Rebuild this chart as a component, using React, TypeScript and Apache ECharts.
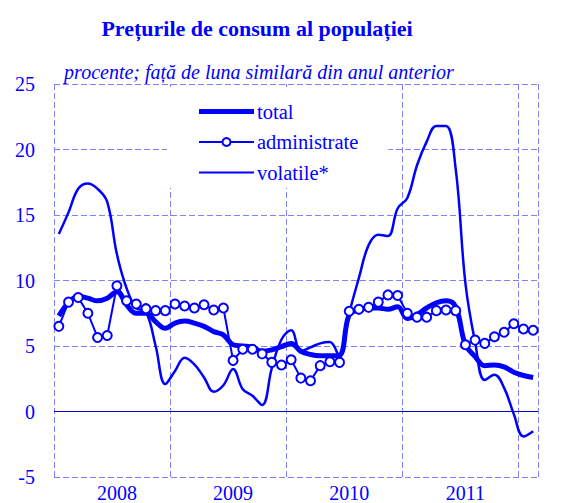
import React, { useEffect, useRef } from "react";
import * as echarts from "echarts";

const years = ["2008", "2009", "2010", "2011", "2012"];
const monthsPerYear = ["01", "02", "03", "04", "05", "06", "07", "08", "09", "10", "11", "12"];
const categories: string[] = [];
years.forEach((y) => monthsPerYear.forEach((m) => categories.push(y + "-" + m)));
const months = categories.slice(0, 50);

const total = [
  7.3, 8.3, 8.8, 8.65, 8.45, 8.65, 9.15, 8.15, 7.5, 7.5, 6.85, 6.35,
  6.75, 6.9, 6.75, 6.5, 6.1, 5.85, 5.1, 5.0, 4.9, 4.6, 4.7, 4.95,
  5.2, 4.6, 4.35, 4.25, 4.25, 4.3, 7.4, 7.75, 7.9, 7.9, 7.8, 8.0,
  7.1, 7.4, 7.9, 8.3, 8.45, 8.0, 5.1, 4.2, 3.5, 3.55, 3.4, 3.0,
  2.75, 2.6,
];
const administrate = [
  6.5, 8.35, 8.7, 7.5, 5.65, 5.8, 9.6, 8.45, 8.2, 7.85, 7.7, 7.7,
  8.2, 8.05, 7.9, 8.15, 7.75, 7.9, 3.9, 4.75, 4.75, 4.4, 3.75, 3.55,
  3.95, 2.55, 2.35, 3.5, 3.8, 3.75, 7.65, 7.8, 7.95, 8.35, 8.9, 8.85,
  7.5, 7.2, 7.2, 7.7, 7.75, 7.7, 5.1, 5.45, 5.2, 5.7, 6.05, 6.7,
  6.3, 6.2,
];
const volatile = [
  13.55, 15.2, 17.0, 17.4, 17.0, 16.0, 12.0, 9.4, 7.9, 7.6, 5.0, 2.1,
  3.1, 4.1, 3.6, 2.6, 1.5, 2.0, 3.25, 1.7, 1.2, 0.5, 3.3, 5.5,
  6.2, 4.6, 4.9, 5.2, 5.3, 4.2, 7.5, 10.2, 12.7, 13.5, 13.4, 15.5,
  16.3, 18.8, 20.6, 21.8, 21.8, 18.5, 9.8, 5.3, 2.4, 2.8, 1.8, -0.2,
  -1.9, -1.5,
];

const seriesNames = ["total", "administrate", "volatile*"];
const titleText = "Prețurile de consum al populației";
const subtitleText = "procente; față de luna similară din anul anterior";

const BLUE = "#0000ff";
const GRID = "#8080ff";
const FONT = "'Liberation Serif', 'Times New Roman', Times, 'DejaVu Serif', serif";

export default function App() {
  const ref = useRef<HTMLDivElement>(null);
  useEffect(() => {
    if (!ref.current) return;
    const chart = echarts.init(ref.current, undefined, { renderer: "svg" });
    chart.setOption({
      animation: false,
      backgroundColor: "#fff",
      grid: { left: 54, right: 28, top: 84, bottom: 26 },
      graphic: [
        {
          type: "text",
          x: 257,
          y: 28,
          style: {
            text: titleText,
            fill: BLUE,
            fontFamily: FONT,
            fontSize: 22,
            fontWeight: "bold",
            textAlign: "center",
            textVerticalAlign: "middle",
          },
        },
        {
          type: "text",
          x: 259,
          y: 72,
          style: {
            text: subtitleText,
            fill: BLUE,
            fontFamily: FONT,
            fontSize: 20,
            fontStyle: "italic",
            textAlign: "center",
            textVerticalAlign: "middle",
          },
        },
      ],
      legend: {
        orient: "vertical",
        left: 167,
        top: 87,
        padding: [14, 30, 5, 31],
        backgroundColor: "#fff",
        itemWidth: 55,
        itemHeight: 10,
        itemGap: 9.5,
        data: [
          { name: seriesNames[0], icon: "path://M0,0L55,0L55,5L0,5Z" },
          { name: seriesNames[1] },
          { name: seriesNames[2], icon: "path://M0,0L55,0L55,2L0,2Z" },
        ],
        textStyle: { color: BLUE, fontSize: 20.5, fontFamily: FONT, padding: [0, 0, 0, -2] },
      },
      xAxis: [
        {
          type: "category",
          data: months,
          boundaryGap: true,
          axisLine: { show: false },
          axisTick: { show: false },
          splitLine: { show: false },
          axisLabel: {
            interval: (index: number) => index % 12 === 6,
            formatter: (v: string) => v.slice(0, 4),
            color: BLUE,
            fontSize: 20,
            fontFamily: FONT,
            margin: 6,
          },
        },
        {
          type: "value",
          min: 0,
          max: 50,
          interval: 12,
          position: "bottom",
          axisLine: { show: false },
          axisTick: { show: false },
          axisLabel: { show: false },
          splitLine: { show: true, lineStyle: { color: GRID, type: [6, 3], width: 1 } },
        },
      ],
      yAxis: {
        type: "value",
        min: -5,
        max: 25,
        interval: 5,
        axisLine: { show: false },
        axisTick: { show: false },
        axisLabel: { color: BLUE, fontSize: 20, fontFamily: FONT, margin: 19 },
        splitLine: { show: true, lineStyle: { color: GRID, type: [6, 3], width: 1 } },
      },
      series: [
        {
          name: seriesNames[0],
          type: "line",
          data: total,
          smooth: 0.4,
          symbol: "none",
          lineStyle: { color: BLUE, width: 5 },
          itemStyle: { color: BLUE },
          z: 3,
          markLine: {
            silent: true,
            symbol: "none",
            label: { show: false },
            lineStyle: { color: "#0000cc", width: 1, type: "solid" },
            data: [{ yAxis: 0 }],
          },
        },
        {
          name: seriesNames[1],
          type: "line",
          data: administrate,
          smooth: false,
          symbol: "circle",
          symbolSize: 9,
          showAllSymbol: true,
          lineStyle: { color: BLUE, width: 2 },
          itemStyle: { color: "#fff", borderColor: BLUE, borderWidth: 2 },
          z: 4,
        },
        {
          name: seriesNames[2],
          type: "line",
          data: volatile,
          smooth: 0.4,
          symbol: "none",
          lineStyle: { color: BLUE, width: 2.5 },
          itemStyle: { color: BLUE },
          z: 2,
        },
      ],
    });
    return () => chart.dispose();
  }, []);
  return (
    <div
      ref={ref}
      style={{ position: "fixed", left: 0, top: 0, width: 566, height: 503 }}
    />
  );
}
